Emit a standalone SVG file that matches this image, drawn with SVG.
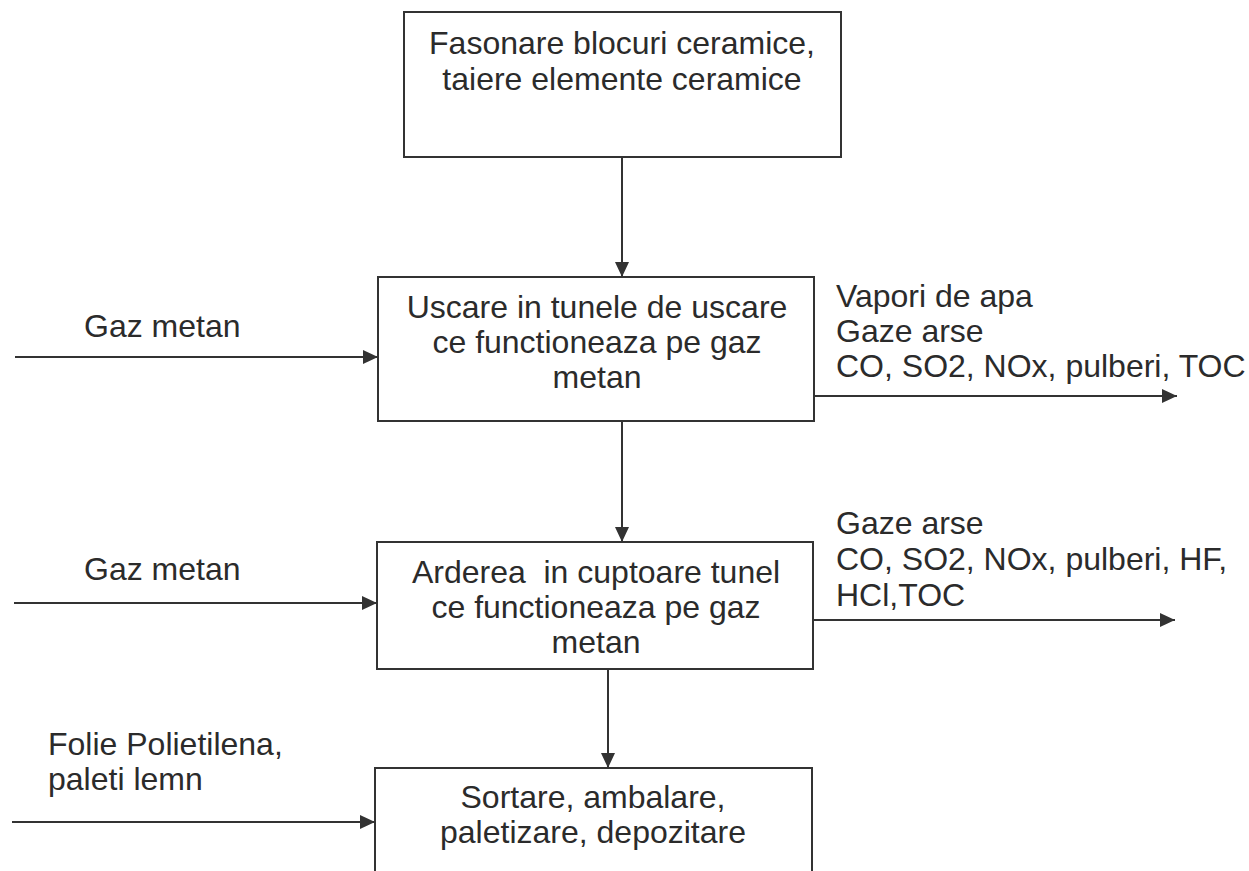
<svg xmlns="http://www.w3.org/2000/svg" width="1249" height="871" viewBox="0 0 1249 871">
  <style>
    .box { fill: none; stroke: #333; stroke-width: 2; }
    .wire { fill: none; stroke: #333; stroke-width: 2; }
    text { font-family: "Liberation Sans", Arial, sans-serif; font-size: 32px; fill: #2b2b2b; }
    .c { text-anchor: middle; }
  </style>
  <defs>
    <marker id="arrow" markerUnits="userSpaceOnUse" markerWidth="16" markerHeight="14" refX="15" refY="7" orient="auto">
      <path d="M0,0 L15,7 L0,14 Z" fill="#333"/>
    </marker>
  </defs>

  <rect x="0" y="0" width="1249" height="871" fill="#ffffff"/>

  <!-- process steps -->
  <g id="fasonare">
    <rect class="box" x="404" y="12" width="437" height="145"/>
    <text class="c" x="622" y="54">Fasonare blocuri ceramice,</text>
    <text class="c" x="622" y="90">taiere elemente ceramice</text>
  </g>

  <g id="uscare">
    <rect class="box" x="378" y="277" width="436" height="144"/>
    <text class="c" x="597" y="318">Uscare in tunele de uscare</text>
    <text class="c" x="597" y="353">ce functioneaza pe gaz</text>
    <text class="c" x="597" y="388">metan</text>
  </g>

  <g id="ardere">
    <rect class="box" x="377" y="542" width="436" height="127"/>
    <text class="c" x="596" y="583" xml:space="preserve">Arderea  in cuptoare tunel</text>
    <text class="c" x="596" y="618">ce functioneaza pe gaz</text>
    <text class="c" x="596" y="653">metan</text>
  </g>

  <g id="sortare">
    <rect class="box" x="375" y="768" width="437" height="130"/>
    <text class="c" x="593" y="808">Sortare, ambalare,</text>
    <text class="c" x="593" y="843">paletizare, depozitare</text>
  </g>

  <!-- inputs and outputs -->
  <g id="in-gaz-1">
    <text x="84" y="337">Gaz metan</text>
  </g>
  <g id="out-uscare">
    <text x="836" y="307">Vapori de apa</text>
    <text x="836" y="342">Gaze arse</text>
    <text x="836" y="377">CO, SO2, NOx, pulberi, TOC</text>
  </g>
  <g id="in-gaz-2">
    <text x="84" y="580">Gaz metan</text>
  </g>
  <g id="out-ardere">
    <text x="836" y="534">Gaze arse</text>
    <text x="836" y="570">CO, SO2, NOx, pulberi, HF,</text>
    <text x="836" y="606">HCl,TOC</text>
  </g>
  <g id="in-ambalaje">
    <text x="48" y="755">Folie Polietilena,</text>
    <text x="48" y="790">paleti lemn</text>
  </g>

  <!-- connectors -->
  <g id="connectors">
    <path class="wire" d="M622,157 V277" marker-end="url(#arrow)"/>
    <path class="wire" d="M622,421 V542" marker-end="url(#arrow)"/>
    <path class="wire" d="M608,669 V768" marker-end="url(#arrow)"/>
    <path class="wire" d="M15,357 H378" marker-end="url(#arrow)"/>
    <path class="wire" d="M14,603 H377" marker-end="url(#arrow)"/>
    <path class="wire" d="M12,822 H375" marker-end="url(#arrow)"/>
    <path class="wire" d="M814,396 H1177" marker-end="url(#arrow)"/>
    <path class="wire" d="M813,620 H1175" marker-end="url(#arrow)"/>
  </g>
</svg>
